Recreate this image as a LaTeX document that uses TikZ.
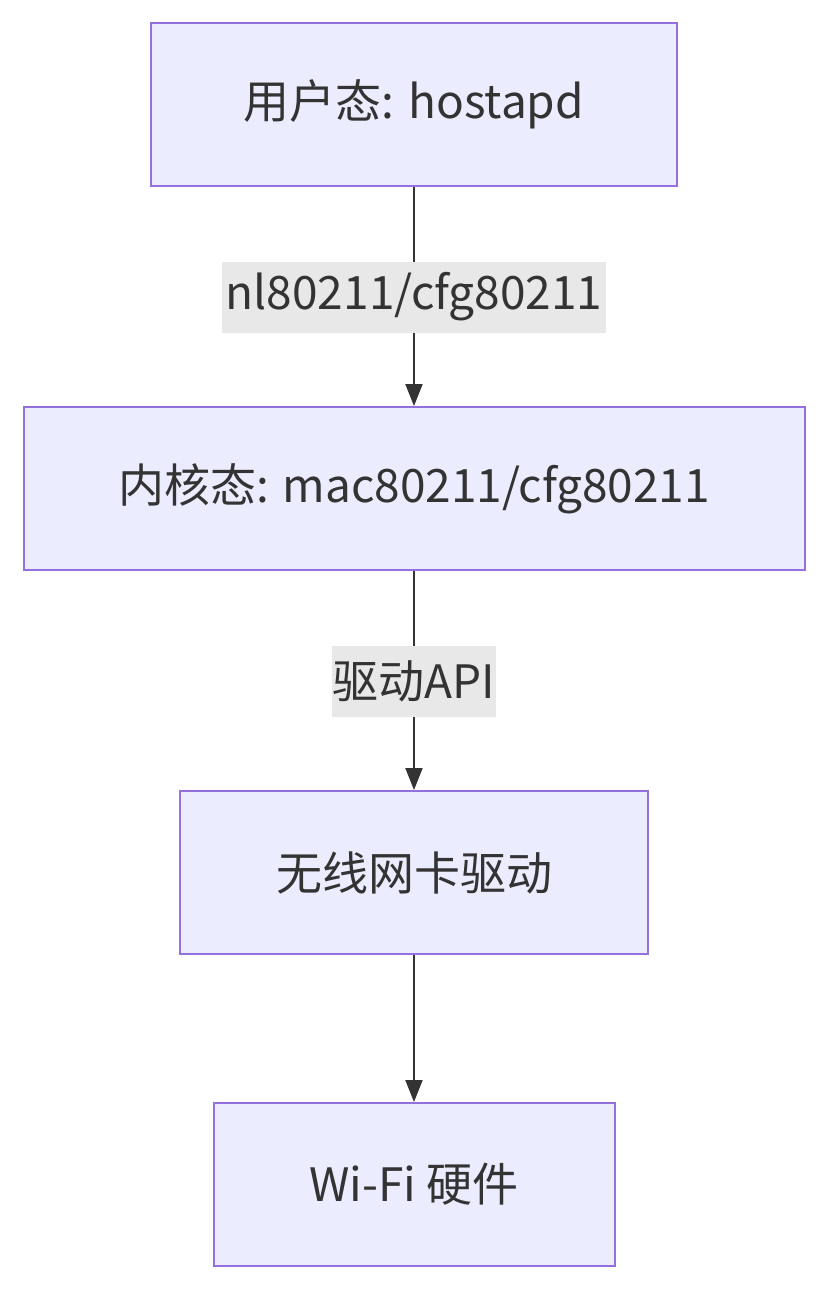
\documentclass[tikz,border=0pt]{standalone}
\usepackage{fontspec}
\setmainfont{Noto Sans CJK SC}
\definecolor{boxfill}{HTML}{ECECFF}
\definecolor{boxline}{HTML}{9370DB}
\definecolor{edgegray}{HTML}{333333}
\definecolor{labelbg}{HTML}{E8E8E8}
\usetikzlibrary{arrows.meta,positioning}

\begin{document}
\begin{tikzpicture}[x=1pt,y=-1pt,
  layer/.style={draw=boxline, line width=2pt, fill=boxfill, text=edgegray, minimum height=163pt, font=\fontsize{46}{52}\selectfont},
  link/.style={-{Triangle[length=22pt,width=17pt]}, line width=2pt, edgegray},
  tag/.style={fill=labelbg, text=edgegray, inner sep=0pt, minimum height=71pt, font=\fontsize{46}{52}\selectfont}]
  \useasboundingbox (0,0) rectangle (828,1290);
  % layers
  \node[layer, minimum width=526pt] (user) at (414,104.5) {用户态: hostapd};
  \node[layer, minimum width=781pt] (kernel) at (414,488.5) {内核态: mac80211/cfg80211};
  \node[layer, minimum width=468pt] (driver) at (414,872.5) {无线网卡驱动};
  \node[layer, minimum width=401pt] (hw) at (414,1184.5) {Wi-Fi 硬件};
  % connectors
  \draw[link] (user) -- (kernel);
  \draw[link] (kernel) -- (driver);
  \draw[link] (driver) -- (hw);
  % labels
  \node[tag, minimum width=384pt] (nl) at (414,297) {nl80211/cfg80211};
  \node[tag, minimum width=164pt] (api) at (414,681) {驱动API};
\end{tikzpicture}
\end{document}
